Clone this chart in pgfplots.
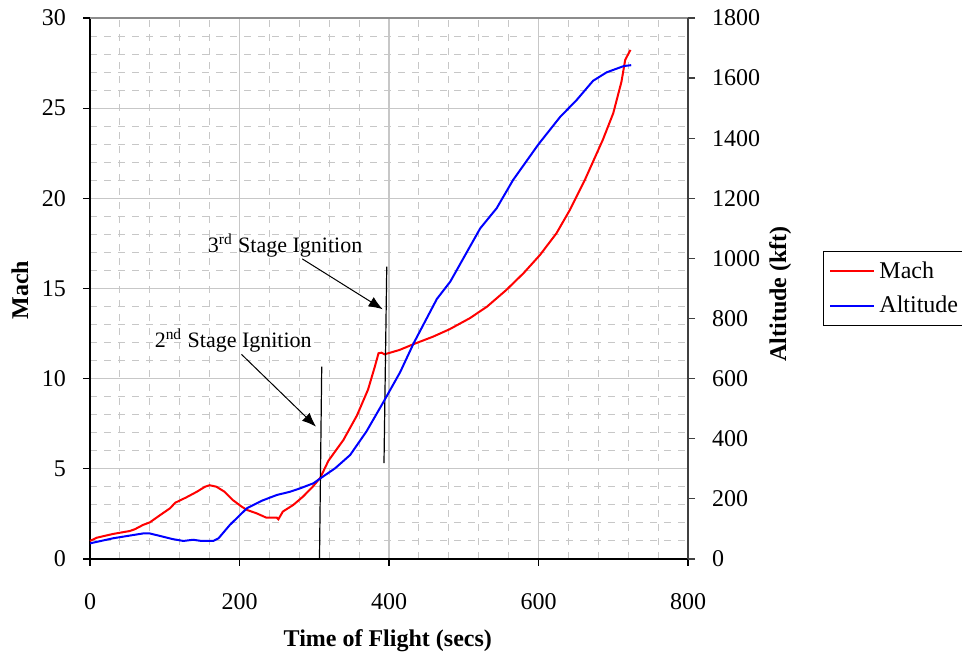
\documentclass[border=0pt]{standalone}
\usepackage{fontspec}
\setmainfont{Liberation Serif}
\usepackage{pgfplots}
\pgfplotsset{compat=1.18}
\usetikzlibrary{arrows.meta}
\begin{document}
\begin{tikzpicture}[font=\fontsize{12}{14.4}\selectfont]
\begin{axis}[
 name=ax1, scale only axis, width=299pt, height=270.5pt,
 xmin=0,xmax=800, ymin=0,ymax=30,
 xtick={0,200,...,800}, ytick={0,5,...,30},
 minor x tick num=4, minor y tick num=4,
 grid=both,
 major grid style={solid, draw=black!22, line width=0.6pt},
 minor grid style={dash pattern=on 3.5pt off 3.5pt, draw=black!22, line width=0.5pt},
 minor tick length=0pt, major tick length=3.5pt, tick align=outside,
 axis x line*=bottom, axis y line*=left,
 axis line style={black, line width=0.8pt},
 tick style={black, line width=0.6pt},
 /pgf/number format/assume math mode=true,
 xticklabel style={yshift=-10pt},
 yticklabel style={xshift=-5pt},
 xlabel={\textbf{Time of Flight (secs)}},
 ylabel={\textbf{Mach}},
 xlabel style={at={(axis description cs:0.498,-0.1516)}, anchor=center},
 ylabel style={at={(axis description cs:-0.117,0.497)}, anchor=center},
 clip=false,
]
\draw[black!45, line width=1pt] (rel axis cs:0,1) -- (rel axis cs:1,1);
\addplot[red, line width=1pt] coordinates {
(0,1.00) (9,1.18) (31,1.39) (53,1.55) (60,1.65) (71,1.89) (80,2.03) (94,2.44)
(107,2.81) (114,3.12) (129,3.42) (143,3.73) (154,4.01) (160,4.09) (169,4.01)
(180,3.73) (191,3.27) (203,2.90) (210,2.72) (223,2.53) (236,2.29) (250,2.29)
(252,2.20) (258,2.63) (272,3.00) (285,3.46) (298,4.01) (308,4.50) (319,5.45)
(339,6.60) (357,7.95) (372,9.40) (381,10.66) (386,11.41) (390,11.44) (394,11.35)
(414,11.59) (432,11.90) (459,12.33) (481,12.74) (508,13.35) (531,13.99)
(557,14.92) (580,15.85) (602,16.86) (624,18.06) (642,19.36) (662,21.02)
(686,23.24) (700,24.72) (711,26.47) (716,27.68) (723,28.23)};
\addplot[black, line width=0.6pt] coordinates {(307,0) (310,10.67)};
\addplot[black, line width=0.6pt] coordinates {(393.3,5.31) (397,16.21)};
\draw[-{Latex[length=7pt,width=5.5pt]}, line width=0.5pt] (axis cs:202.6,11.35) -- (axis cs:302.3,7.34);
\draw[-{Latex[length=7pt,width=5.5pt]}, line width=0.5pt] (axis cs:284,16.64) -- (axis cs:391.6,13.85);
\node[font=\fontsize{11}{13}\selectfont] at (axis cs:191.6,12.1) {2\textsuperscript{nd} Stage Ignition};
\node[font=\fontsize{11}{13}\selectfont] at (axis cs:261,17.4) {3\textsuperscript{rd} Stage Ignition};
\end{axis}
\begin{axis}[
 scale only axis, width=299pt, height=270.5pt,
 xmin=0,xmax=800, ymin=0,ymax=1800,
 ytick={0,200,...,1800},
 axis x line=none, axis y line*=right,
 axis line style={black!75, line width=0.8pt},
 tick style={black!75, line width=0.6pt},
 major tick length=3.5pt, tick align=outside,
 /pgf/number format/assume math mode=true,
 /pgf/number format/1000 sep={},
 yticklabel style={xshift=5pt},
 ylabel={\textbf{Altitude (kft)}},
 ylabel style={at={(axis description cs:1.154,0.49)}, anchor=center},
 legend style={at={(1.2258,0.5693)}, anchor=north west,
   inner xsep=3pt, inner ysep=3pt, row sep=3.5pt, font=\fontsize{12}{14.4}\selectfont},
 legend cell align=left,
 legend image code/.code={\draw[#1] (0pt,0pt) -- (22pt,0pt);},
]
\addlegendimage{red, line width=0.8pt}
\addlegendentry{Mach}
\addplot[blue, line width=1pt] coordinates {
(0,52) (31,69) (71,85) (80,85) (98,74) (111,66) (125,60) (138,64) (149,60)
(165,60) (172,69) (187,113) (210,169) (230,194) (250,213) (268,224) (281,235)
(299,252) (308,268) (328,302) (348,346) (370,425) (392,520) (415,622) (433,718)
(464,865) (482,923) (522,1100) (544,1167) (566,1261) (600,1380) (629,1471)
(651,1527) (673,1591) (691,1619) (714,1640) (724,1643)};
\addlegendentry{Altitude}
\end{axis}
\pgfresetboundingbox
\useasboundingbox (-45pt,-48.5pt) rectangle (436pt,279.5pt);
\end{tikzpicture}
\end{document}
